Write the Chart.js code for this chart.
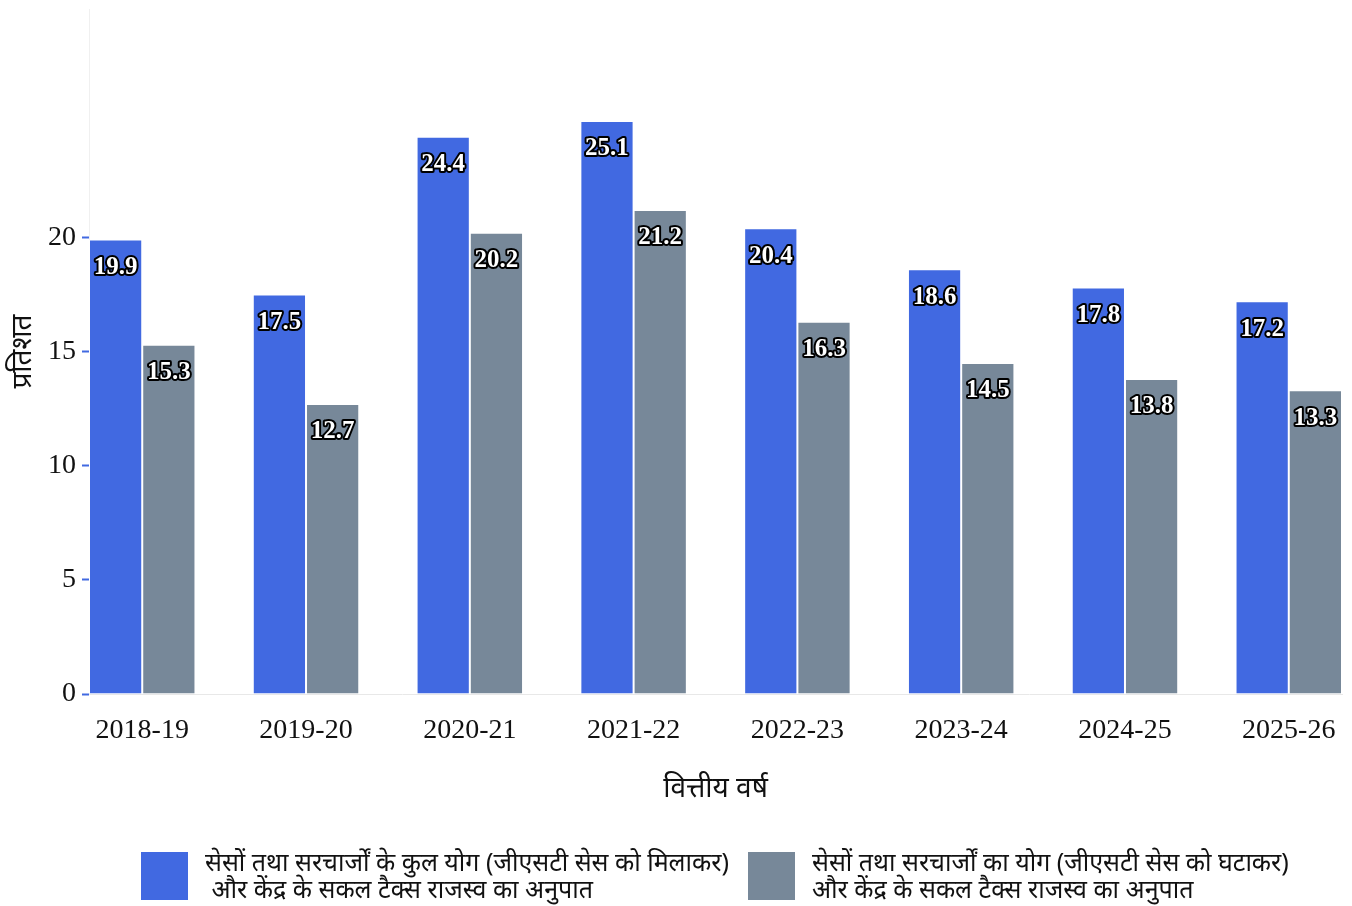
<!DOCTYPE html>
<html>
<head>
<meta charset="utf-8">
<script src="https://cdn.jsdelivr.net/npm/chart.js@4.4.1/dist/chart.umd.min.js"></script>
<style>
  html, body { margin: 0; padding: 0; background: #fff; }
  #wrap { position: relative; width: 1352px; height: 906px; }
  #legend { position: absolute; left: 0; top: 0; width: 1352px; height: 906px; pointer-events: none; }
  .box { position: absolute; width: 47px; height: 48px; }
  .txt { position: absolute; font-family: "Noto Sans", sans-serif; font-size: 25px; line-height: 27px; color: #111; white-space: pre; }
</style>
</head>
<body>
<div id="wrap">
  <canvas id="chart" width="1352" height="906"></canvas>
  <div id="legend"></div>
</div>
<script>
  // chart data
  const years = ["2018-19", "2019-20", "2020-21", "2021-22", "2022-23", "2023-24", "2024-25", "2025-26"];
  const withGst = [19.9, 17.5, 24.4, 25.1, 20.4, 18.6, 17.8, 17.2];
  const withoutGst = [15.3, 12.7, 20.2, 21.2, 16.3, 14.5, 13.8, 13.3];
  const yTicks = [0, 5, 10, 15, 20];
  const seriesNames = [
    ["सेसों तथा सरचार्जों के कुल योग (जीएसटी सेस को मिलाकर)", " और केंद्र के सकल टैक्स राजस्व का अनुपात"],
    ["सेसों तथा सरचार्जों का योग (जीएसटी सेस को घटाकर)", "और केंद्र के सकल टैक्स राजस्व का अनुपात"]
  ];
  const colors = ["#4169E1", "#778899"];

  // labels inside the top of each bar, white with dark outline
  const barLabels = {
    id: "barLabels",
    afterDatasetsDraw(chart) {
      const ctx = chart.ctx;
      ctx.save();
      ctx.font = "bold 25px 'Liberation Serif', serif";
      ctx.textAlign = "center";
      ctx.textBaseline = "middle";
      ctx.lineJoin = "round";
      chart.data.datasets.forEach((ds, di) => {
        chart.getDatasetMeta(di).data.forEach((bar, i) => {
          const txt = ds.data[i].y.toFixed(1);
          ctx.lineWidth = 4;
          ctx.strokeStyle = "#000";
          ctx.strokeText(txt, bar.x, bar.y + 28);
          ctx.fillStyle = "#fff";
          ctx.fillText(txt, bar.x, bar.y + 28);
        });
      });
      ctx.restore();
    }
  };

  const toPoints = arr => arr.map((v, i) => ({ x: i, y: v }));

  // no extra label padding, the axes keep the sizes set below
  const noPad = scale => {
    scale.paddingTop = 0;
    scale.paddingBottom = 0;
    scale.paddingLeft = 0;
    scale.paddingRight = 0;
  };

  new Chart(document.getElementById("chart"), {
    type: "bar",
    data: {
      datasets: [
        { label: seriesNames[0].join(" "), data: toPoints(withGst), backgroundColor: colors[0], borderColor: "#ffffff", borderWidth: 1 },
        { label: seriesNames[1].join(" "), data: toPoints(withoutGst), backgroundColor: colors[1], borderColor: "#ffffff", borderWidth: 1 }
      ]
    },
    options: {
      responsive: false,
      animation: false,
      categoryPercentage: 0.65,
      barPercentage: 1,
      layout: { padding: { top: 9, right: 10, bottom: 100, left: 0 } },
      plugins: { legend: { display: false }, tooltip: { enabled: false } },
      scales: {
        x: {
          type: "linear",
          offset: false,
          min: -0.325,
          max: 7.325,
          afterBuildTicks: scale => { scale.ticks = years.map((_, i) => ({ value: i })); },
          afterFit: scale => { scale.height = 112; noPad(scale); },
          grid: { display: false, drawTicks: false },
          border: { display: true, color: "#e8e8e8", width: 1 },
          ticks: {
            autoSkip: false,
            maxRotation: 0,
            padding: 20,
            color: "#111",
            font: { family: "'Liberation Serif', serif", size: 28 },
            callback: v => years[v]
          },
          title: {
            display: true,
            text: "वित्तीय वर्ष",
            color: "#111",
            font: { family: "'Noto Sans', sans-serif", size: 28 },
            padding: { top: 0, bottom: 0 }
          }
        },
        y: {
          min: 0,
          max: 30,
          afterBuildTicks: scale => { scale.ticks = yTicks.map(v => ({ value: v })); },
          afterFit: scale => { scale.width = 89; noPad(scale); },
          grid: { drawOnChartArea: false, drawTicks: true, tickLength: 7, tickColor: "#4169E1", tickWidth: 2 },
          border: { display: true, color: "#f0f0f0", width: 1 },
          ticks: {
            padding: 6,
            color: "#111",
            font: { family: "'Liberation Serif', serif", size: 28 }
          },
          title: {
            display: true,
            text: "प्रतिशत",
            color: "#111",
            font: { family: "'Noto Sans', sans-serif", size: 28 },
            padding: { top: 6, bottom: 6 }
          }
        }
      }
    },
    plugins: [barLabels]
  });

  // html legend under the chart
  const legend = document.getElementById("legend");
  const boxLeft = [141, 748];
  const textLeft = [205, 812];
  seriesNames.forEach((lines, i) => {
    const box = document.createElement("div");
    box.className = "box";
    box.style.left = boxLeft[i] + "px";
    box.style.top = "852px";
    box.style.background = colors[i];
    legend.appendChild(box);
    const txt = document.createElement("div");
    txt.className = "txt";
    txt.style.left = textLeft[i] + "px";
    txt.style.top = "848px";
    txt.textContent = lines.join("\n");
    legend.appendChild(txt);
  });
</script>
</body>
</html>
